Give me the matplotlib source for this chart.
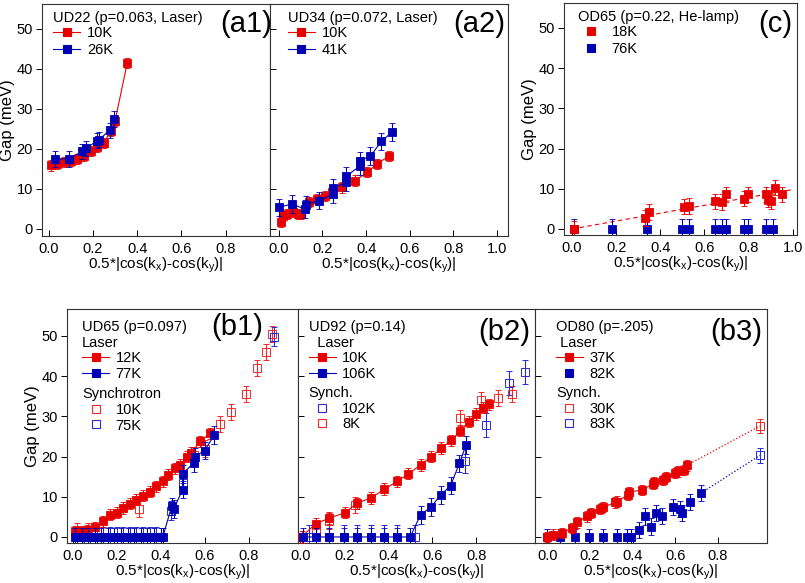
import matplotlib
matplotlib.use('Agg')
import matplotlib.pyplot as plt
from matplotlib.lines import Line2D

plt.rcParams['font.family'] = ['Liberation Sans', 'DejaVu Sans']
plt.rcParams['mathtext.fontset'] = 'custom'
plt.rcParams['mathtext.rm'] = 'Liberation Sans'
plt.rcParams['mathtext.it'] = 'Liberation Sans:italic'

RED = '#e80000'
BLUE = '#0000b4'
RED_OPEN = '#f02a2a'
BLUE_OPEN = '#2a2ad0'

# ---------------- data ----------------
# (a1) UD22 laser
a1_10K_x = [0.01, 0.04, 0.07, 0.10, 0.13, 0.16, 0.19, 0.22, 0.25, 0.28, 0.30, 0.355]
a1_10K_y = [15.9, 16.2, 16.7, 17.0, 17.5, 18.3, 19.5, 20.5, 21.5, 24.5, 27.0, 41.5]
a1_26K_x = [0.03, 0.09, 0.15, 0.17, 0.22, 0.227, 0.276, 0.295]
a1_26K_y = [17.5, 17.5, 19.4, 20.2, 22.1, 22.3, 24.7, 27.5]

# (a2) UD34 laser
a2_10K_x = [0.01, 0.018, 0.04, 0.064, 0.086, 0.10, 0.14, 0.177, 0.21, 0.245, 0.29, 0.35, 0.405, 0.45, 0.503]
a2_10K_y = [1.7, 3.3, 3.75, 4.2, 3.75, 3.75, 6.7, 7.5, 8.3, 9.2, 10.4, 12.1, 14.2, 16.25, 18.2]
a2_41K_x = [0.0, 0.06, 0.12, 0.124, 0.185, 0.25, 0.25, 0.31, 0.31, 0.37, 0.37, 0.42, 0.47, 0.518]
a2_41K_y = [5.4, 6.25, 5.0, 6.1, 7.1, 8.75, 10.25, 11.7, 13.2, 15.7, 17.1, 18.2, 21.9, 24.2]

# (c) OD65 He-lamp
c_18K_x = [0.01, 0.33, 0.35, 0.51, 0.53, 0.65, 0.68, 0.70, 0.78, 0.80, 0.88, 0.89, 0.90, 0.92, 0.95]
c_18K_y = [0.0, 2.75, 4.2, 5.5, 5.7, 6.9, 6.7, 8.6, 7.5, 8.6, 8.6, 7.3, 6.9, 10.25, 8.6]
c_76K_x = [0.01, 0.18, 0.34, 0.50, 0.53, 0.65, 0.68, 0.70, 0.78, 0.80, 0.88, 0.91]
c_76K_y = [0.0, 0.0, 0.0, 0.0, 0.0, 0.0, 0.0, 0.0, 0.0, 0.0, 0.0, 0.0]
c_fit_x = [0.0, 1.0]
c_fit_y = [0.0, 9.8]

# (b1) UD65
b1_12K_x = [0.01, 0.033, 0.067, 0.10, 0.14, 0.17, 0.20, 0.23, 0.26, 0.29, 0.32, 0.35, 0.38, 0.41,
            0.435, 0.466, 0.49, 0.52, 0.54, 0.58, 0.625]
b1_12K_y = [1.4, 1.4, 1.65, 2.4, 3.9, 5.5, 6.0, 7.2, 8.3, 9.3, 10.3, 11.3, 12.6, 13.8,
            15.5, 17.1, 18.0, 20.0, 20.9, 23.8, 25.8]
b1_77K_x = [0.01, 0.04, 0.07, 0.10, 0.13, 0.16, 0.19, 0.22, 0.25, 0.28, 0.31, 0.34, 0.37, 0.40,
            0.41, 0.45, 0.46, 0.50, 0.50, 0.55, 0.557, 0.60, 0.645]
b1_77K_y = [0.0, 0.0, 0.0, 0.0, 0.0, 0.0, 0.0, 0.0, 0.0, 0.0, 0.0, 0.0, 0.0, 0.0,
            0.0, 7.6, 7.0, 11.8, 15.7, 18.4, 20.0, 21.5, 25.4]
b1_10K_x = [0.02, 0.07, 0.30, 0.55, 0.60, 0.67, 0.72, 0.79, 0.84, 0.88, 0.905]
b1_10K_y = [1.5, 1.5, 7.0, 20.5, 22.0, 28.0, 31.0, 35.5, 42.0, 46.0, 50.5]
b1_75K_x = [0.02, 0.05, 0.08, 0.11, 0.14, 0.17, 0.20, 0.23, 0.26, 0.29, 0.32, 0.35, 0.38, 0.445, 0.50, 0.915]
b1_75K_y = [0.0, 0.0, 0.0, 0.0, 0.0, 0.0, 0.0, 0.0, 0.0, 0.0, 0.0, 0.0, 0.0, 6.5, 13.5, 49.8]

# (b2) UD92
b2_10K_x = [0.006, 0.071, 0.133, 0.202, 0.259, 0.321, 0.383, 0.439, 0.491, 0.547, 0.596, 0.642,
            0.686, 0.727, 0.766, 0.797, 0.831, 0.859]
b2_10K_y = [0.0, 3.3, 4.7, 6.0, 8.4, 9.7, 11.9, 13.8, 15.7, 17.9, 20.0, 22.1,
            24.0, 26.4, 28.7, 30.6, 32.2, 33.0]
b2_106K_x = [0.012, 0.071, 0.133, 0.198, 0.259, 0.321, 0.383, 0.442, 0.50,
             0.547, 0.593, 0.64, 0.684, 0.723, 0.754]
b2_106K_y = [0.0, 0.0, 0.0, 0.0, 0.0, 0.0, 0.0, 0.0, 0.0,
             5.5, 7.4, 10.5, 12.8, 18.3, 22.9]
b2_102K_x = [0.04, 0.13, 0.20, 0.26, 0.32, 0.38, 0.44, 0.52, 0.75, 0.843, 0.948, 1.02]
b2_102K_y = [0.0, 0.0, 0.0, 0.0, 0.0, 0.0, 0.0, 0.0, 18.8, 27.9, 38.2, 41.1]
b2_8K_x = [0.07, 0.13, 0.25, 0.727, 0.82, 0.897, 0.964]
b2_8K_y = [1.5, 4.0, 8.0, 29.5, 34.0, 34.5, 35.5]

# (b3) OD80
b3_37K_x = [0.0, 0.028, 0.067, 0.114, 0.138, 0.184, 0.203, 0.247, 0.263, 0.317, 0.325, 0.38, 0.384,
            0.442, 0.497, 0.50, 0.544, 0.556, 0.598, 0.614, 0.64, 0.653]
b3_37K_y = [0.0, 0.6, 1.0, 2.2, 3.6, 5.1, 6.0, 6.9, 7.4, 8.6, 8.8, 10.5, 11.1,
            11.7, 13.2, 13.6, 14.2, 14.9, 15.9, 16.3, 16.7, 17.8]
b3_82K_x = [0.0, 0.06, 0.13, 0.195, 0.26, 0.325, 0.375, 0.39, 0.43, 0.46, 0.484, 0.51, 0.536,
            0.59, 0.62, 0.63, 0.67, 0.72]
b3_82K_y = [0.0, 0.0, 0.0, 0.0, 0.0, 0.0, 0.0, 0.0, 1.8, 5.1, 2.6, 6.0, 5.3,
            7.4, 6.9, 6.0, 8.6, 10.9]
b3_30K_x = [0.997]
b3_30K_y = [27.6]
b3_83K_x = [0.997]
b3_83K_y = [20.3]

yticks = [0, 10, 20, 30, 40, 50]
xticks_short = [0.0, 0.2, 0.4, 0.6, 0.8]
xticks_long = [0.0, 0.2, 0.4, 0.6, 0.8, 1.0]
XLABEL = r'0.5*|cos(k$_{\rm x}$)-cos(k$_{\rm y}$)|'

TICK_FS = 10.5
LEG_FS = 10.5
PANEL_FS = 21

# ---------------- figure ----------------
fig = plt.figure(figsize=(8.05, 5.83), dpi=100)
W, H = 805.0, 583.0


def axes_px(x0, x1, y0, y1):
    return fig.add_axes([x0 / W, 1 - y1 / H, (x1 - x0) / W, (y1 - y0) / H])


ax_a1 = axes_px(42, 270, 4, 236)
ax_a2 = axes_px(270, 508, 4, 236)
ax_c = axes_px(564, 797, 3, 235)
ax_b1 = axes_px(67, 298, 309, 543)
ax_b2 = axes_px(298, 535, 309, 543)
ax_b3 = axes_px(535, 767, 309, 543)


def series(ax, x, y, err, color, filled=True, line=True, ls='-', z=3, ms=5.8):
    ax.errorbar(x, y, yerr=err, fmt='s', ms=ms, color=color,
                mfc=color if filled else 'none', mec=color,
                mew=0.6 if filled else 0.7,
                ecolor=color, elinewidth=0.8, capsize=2.5, capthick=0.8,
                linestyle=ls if line else 'none', lw=0.8, zorder=z, clip_on=True)


def style(ax, xlim, ylim, xticks, ylabels, ylabel=None):
    ax.set_xlim(*xlim)
    ax.set_ylim(*ylim)
    ax.set_xticks(xticks)
    ax.set_xticklabels(['%.1f' % t for t in xticks])
    ax.set_yticks(yticks)
    ax.tick_params(axis='x', direction='in', length=4, width=0.7, labelsize=TICK_FS, pad=4)
    if ylabels:
        ax.tick_params(axis='y', direction='out', length=4, width=0.7, labelsize=TICK_FS, pad=2.5)
    else:
        ax.tick_params(axis='y', direction='in', length=4, width=0.7, labelleft=False)
    for s in ax.spines.values():
        s.set_linewidth(0.8)
        s.set_color('#333333')
    ax.set_xlabel(XLABEL, fontsize=11, labelpad=0)
    if ylabel:
        ax.set_ylabel(ylabel, fontsize=12, labelpad=1)


def handle(color, filled=True, line=True, ms=5.8):
    return Line2D([], [], color=color, marker='s', ms=ms, lw=0.8,
                  mfc=color if filled else 'none', mec=color, mew=0.8,
                  linestyle='-' if line else 'none')


def legend(ax, handles, labels, title, x, y, fs=LEG_FS, ls=0.18):
    leg = ax.legend(handles, labels, title=title, loc='upper left', bbox_to_anchor=(x, y),
                    frameon=False, fontsize=fs, title_fontsize=fs, alignment='left',
                    borderpad=0, borderaxespad=0, handlelength=1.85, handletextpad=0.45,
                    labelspacing=ls, numpoints=1)
    leg._legend_box.sep = 1
    return leg


# (a1)
series(ax_a1, a1_10K_x, a1_10K_y, 1.3, RED, z=3)
series(ax_a1, a1_26K_x, a1_26K_y, 1.9, BLUE, z=4)
style(ax_a1, (-0.03, 1.0), (-1.75, 56.25), xticks_short, True, 'Gap (meV)')
legend(ax_a1, [handle(RED), handle(BLUE)], ['10K', '26K'], 'UD22 (p=0.063, Laser)', 0.05, 0.97)
ax_a1.text(1.01, 0.975, '(a1)', transform=ax_a1.transAxes, ha='right', va='top', fontsize=PANEL_FS)

# (a2)
series(ax_a2, a2_10K_x, a2_10K_y, 1.3, RED, z=3)
series(ax_a2, a2_41K_x, a2_41K_y, 2.2, BLUE, z=4)
style(ax_a2, (-0.04, 1.05), (-1.75, 56.25), xticks_long, False)
legend(ax_a2, [handle(RED), handle(BLUE)], ['10K', '41K'], 'UD34 (p=0.072, Laser)', 0.075, 0.97)
ax_a2.text(0.99, 0.975, '(a2)', transform=ax_a2.transAxes, ha='right', va='top', fontsize=PANEL_FS)

# (c)
ax_c.plot(c_fit_x, c_fit_y, color=RED, ls=(0, (4, 3)), lw=0.8, zorder=2)
series(ax_c, c_76K_x, c_76K_y, 2.4, BLUE, line=False, z=3)
series(ax_c, c_18K_x, c_18K_y, 1.9, RED, line=False, z=4)
style(ax_c, (-0.036, 1.02), (-1.5, 56.2), xticks_long, True, 'Gap (meV)')
legend(ax_c, [handle(RED, line=False), handle(BLUE, line=False)], ['18K', '76K'],
       'OD65 (p=0.22, He-lamp)', 0.06, 0.97)
ax_c.text(0.98, 0.97, '(c)', transform=ax_c.transAxes, ha='right', va='top', fontsize=PANEL_FS)

# (b1)
series(ax_b1, b1_10K_x, b1_10K_y, 2.0, RED_OPEN, filled=False, line=False, z=2, ms=6)
series(ax_b1, b1_75K_x, b1_75K_y, 2.4, BLUE_OPEN, filled=False, line=False, z=2, ms=6)
series(ax_b1, b1_12K_x, b1_12K_y, 1.4, RED, z=3)
series(ax_b1, b1_77K_x, b1_77K_y, 2.2, BLUE, z=4)
style(ax_b1, (-0.026, 1.025), (-1.5, 56.7), xticks_short, True, 'Gap (meV)')
l1 = legend(ax_b1, [handle(RED), handle(BLUE)], ['12K', '77K'], 'UD65 (p=0.097)\nLaser', 0.065, 0.955, ls=0.12)
ax_b1.add_artist(l1)
legend(ax_b1, [handle(RED_OPEN, False, False, 5.5), handle(BLUE_OPEN, False, False, 5.5)], ['10K', '75K'],
       'Synchrotron', 0.065, 0.665, ls=0.12)
ax_b1.text(0.85, 0.985, '(b1)', transform=ax_b1.transAxes, ha='right', va='top', fontsize=PANEL_FS)

# (b2)
series(ax_b2, b2_8K_x, b2_8K_y, 2.0, RED_OPEN, filled=False, line=False, z=2, ms=6)
series(ax_b2, b2_102K_x, b2_102K_y, 3.0, BLUE_OPEN, filled=False, line=False, z=2, ms=6)
series(ax_b2, b2_10K_x, b2_10K_y, 1.4, RED, z=3)
series(ax_b2, b2_106K_x, b2_106K_y, 2.2, BLUE, z=4)
style(ax_b2, (-0.01, 1.067), (-1.5, 56.7), xticks_short, False)
l1 = legend(ax_b2, [handle(RED), handle(BLUE)], ['10K', '106K'], 'UD92 (p=0.14)\n  Laser', 0.045, 0.955, ls=0.12)
ax_b2.add_artist(l1)
legend(ax_b2, [handle(BLUE_OPEN, False, False, 5.5), handle(RED_OPEN, False, False, 5.5)], ['102K', '8K'],
       'Synch.', 0.045, 0.67, ls=0.12)
ax_b2.text(0.98, 0.96, '(b2)', transform=ax_b2.transAxes, ha='right', va='top', fontsize=PANEL_FS)

# (b3)
ax_b3.plot([b3_37K_x[-1], b3_30K_x[0]], [b3_37K_y[-1], b3_30K_y[0]], color=RED, ls=':', lw=0.9, zorder=2)
ax_b3.plot([b3_82K_x[-1], b3_83K_x[0]], [b3_82K_y[-1], b3_83K_y[0]], color=BLUE, ls=':', lw=0.9, zorder=2)
series(ax_b3, b3_30K_x, b3_30K_y, 1.8, RED_OPEN, filled=False, line=False, z=2, ms=6)
series(ax_b3, b3_83K_x, b3_83K_y, 1.8, BLUE_OPEN, filled=False, line=False, z=2, ms=6)
series(ax_b3, b3_82K_x, b3_82K_y, 2.0, BLUE, line=False, z=3)
series(ax_b3, b3_37K_x, b3_37K_y, 1.3, RED, z=4)
style(ax_b3, (-0.058, 1.03), (-1.5, 56.7), xticks_short, False)
l1 = legend(ax_b3, [handle(RED), handle(BLUE, line=False)], ['37K', '82K'], 'OD80 (p=.205)\n Laser', 0.09, 0.955, ls=0.12)
ax_b3.add_artist(l1)
legend(ax_b3, [handle(RED_OPEN, False, False, 5.5), handle(BLUE_OPEN, False, False, 5.5)], ['30K', '83K'],
       'Synch.', 0.09, 0.67, ls=0.12)
ax_b3.text(0.98, 0.96, '(b3)', transform=ax_b3.transAxes, ha='right', va='top', fontsize=PANEL_FS)

fig.savefig('out.png', dpi=100)
